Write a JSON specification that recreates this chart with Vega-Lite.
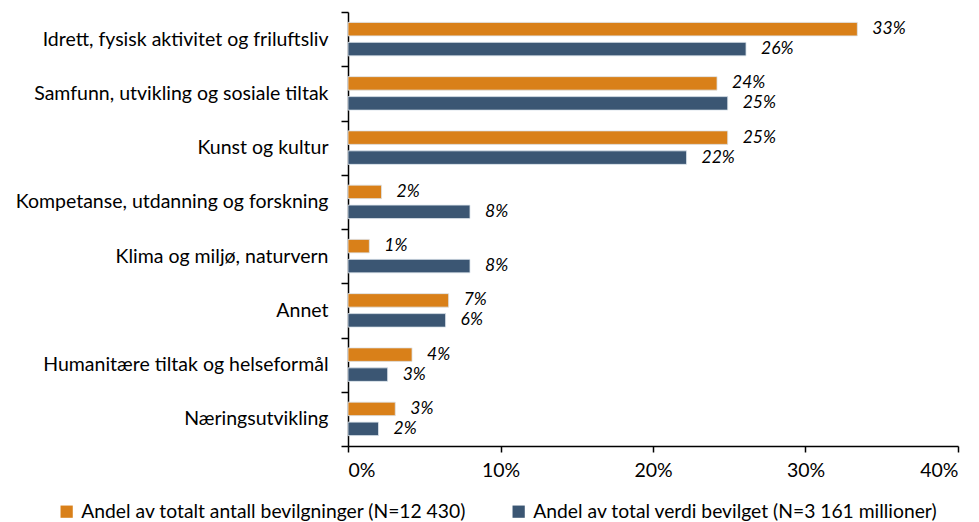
{
  "$schema": "https://vega.github.io/schema/vega-lite/v6.json",
  "width": 610,
  "height": 434,
  "autosize": "none",
  "padding": {"left": 348, "top": 12, "right": 21, "bottom": 76},
  "background": "white",
  "config": {
    "view": {"stroke": null},
    "font": "Lato"
  },
  "data": {
    "values": [
      {"kategori": "Idrett, fysisk aktivitet og friluftsliv", "serie": "Andel av totalt antall bevilgninger (N=12 430)", "andel": 0.334},
      {"kategori": "Idrett, fysisk aktivitet og friluftsliv", "serie": "Andel av total verdi bevilget (N=3 161 millioner)", "andel": 0.261},
      {"kategori": "Samfunn, utvikling og sosiale tiltak", "serie": "Andel av totalt antall bevilgninger (N=12 430)", "andel": 0.242},
      {"kategori": "Samfunn, utvikling og sosiale tiltak", "serie": "Andel av total verdi bevilget (N=3 161 millioner)", "andel": 0.249},
      {"kategori": "Kunst og kultur", "serie": "Andel av totalt antall bevilgninger (N=12 430)", "andel": 0.249},
      {"kategori": "Kunst og kultur", "serie": "Andel av total verdi bevilget (N=3 161 millioner)", "andel": 0.222},
      {"kategori": "Kompetanse, utdanning og forskning", "serie": "Andel av totalt antall bevilgninger (N=12 430)", "andel": 0.022},
      {"kategori": "Kompetanse, utdanning og forskning", "serie": "Andel av total verdi bevilget (N=3 161 millioner)", "andel": 0.080},
      {"kategori": "Klima og miljø, naturvern", "serie": "Andel av totalt antall bevilgninger (N=12 430)", "andel": 0.014},
      {"kategori": "Klima og miljø, naturvern", "serie": "Andel av total verdi bevilget (N=3 161 millioner)", "andel": 0.080},
      {"kategori": "Annet", "serie": "Andel av totalt antall bevilgninger (N=12 430)", "andel": 0.066},
      {"kategori": "Annet", "serie": "Andel av total verdi bevilget (N=3 161 millioner)", "andel": 0.064},
      {"kategori": "Humanitære tiltak og helseformål", "serie": "Andel av totalt antall bevilgninger (N=12 430)", "andel": 0.042},
      {"kategori": "Humanitære tiltak og helseformål", "serie": "Andel av total verdi bevilget (N=3 161 millioner)", "andel": 0.026},
      {"kategori": "Næringsutvikling", "serie": "Andel av totalt antall bevilgninger (N=12 430)", "andel": 0.031},
      {"kategori": "Næringsutvikling", "serie": "Andel av total verdi bevilget (N=3 161 millioner)", "andel": 0.020}
    ]
  },
  "encoding": {
    "y": {
      "field": "kategori",
      "type": "nominal",
      "sort": null,
      "title": null,
      "scale": {"paddingInner": 0, "paddingOuter": 0},
      "axis": {
        "tickBand": "extent",
        "domainColor": "#000000",
        "domainWidth": 1.5,
        "tickColor": "#000000",
        "tickWidth": 1.5,
        "tickSize": 7,
        "labelFontSize": 19.5,
        "labelColor": "#000000",
        "labelPadding": 13,
        "labelLimit": 345
      }
    },
    "yOffset": {
      "field": "serie",
      "type": "nominal",
      "sort": ["Andel av totalt antall bevilgninger (N=12 430)", "Andel av total verdi bevilget (N=3 161 millioner)"],
      "scale": {"paddingInner": 0.325, "paddingOuter": 0.52}
    },
    "x": {
      "field": "andel",
      "type": "quantitative",
      "title": null,
      "scale": {"domain": [0, 0.4], "nice": false},
      "axis": {
        "format": ".0%",
        "values": [0, 0.1, 0.2, 0.3, 0.4],
        "grid": false,
        "domainColor": "#000000",
        "domainWidth": 1.5,
        "tickColor": "#000000",
        "tickWidth": 1.5,
        "tickSize": 6,
        "labelFontSize": 19.5,
        "labelColor": "#000000",
        "labelPadding": 9
      }
    }
  },
  "layer": [
    {
      "mark": {"type": "bar", "stroke": "#dde4ec", "strokeWidth": 0.8},
      "encoding": {
        "color": {
          "field": "serie",
          "type": "nominal",
          "scale": {
            "domain": ["Andel av totalt antall bevilgninger (N=12 430)", "Andel av total verdi bevilget (N=3 161 millioner)"],
            "range": ["#D98019", "#3B5673"]
          },
          "legend": {
            "title": null,
            "orient": "none",
            "direction": "horizontal",
            "legendX": -291,
            "legendY": 490,
            "symbolType": "square",
            "symbolSize": 150,
            "symbolStrokeWidth": 0,
            "labelFontSize": 19.3,
            "labelColor": "#000000",
            "labelLimit": 500,
            "labelOffset": 5,
            "columnPadding": 42
          }
        }
      }
    },
    {
      "mark": {"type": "text", "align": "left", "baseline": "middle", "dx": 15, "fontSize": 17.5, "fontStyle": "italic", "color": "#000000"},
      "encoding": {
        "text": {"field": "andel", "type": "quantitative", "format": ".0%"}
      }
    }
  ]
}
